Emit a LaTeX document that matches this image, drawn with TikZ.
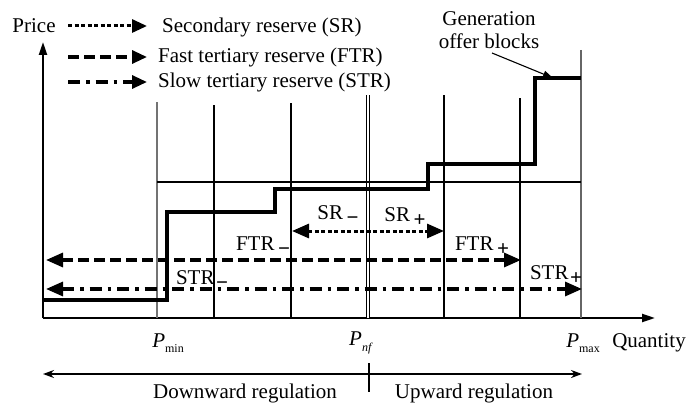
\documentclass[tikz,border=0pt]{standalone}
\usepackage{fontspec}
\setmainfont{Liberation Serif}
\usetikzlibrary{arrows.meta}
\newcommand{\lowsign}[1]{\,\raisebox{-0.5ex}{#1}}
\newcommand{\Psub}[1]{\textit{P}\raisebox{-0.55ex}{\fontsize{12}{12}\selectfont #1}}

\tikzset{
	every node/.style={font=\fontsize{21}{24}\selectfont, inner sep=0pt},
	axis/.style={line width=2.2pt, -{Triangle[length=13pt,width=8pt]}},
	grid/.style={line width=1.1pt},
	offer/.style={line width=3.2pt, line join=miter},
	srline/.style={line width=3pt, dash pattern=on 4pt off 2.5pt},
	ftrline/.style={line width=3.2pt, dash pattern=on 11pt off 5pt},
	strline/.style={line width=3.2pt, dash pattern=on 12pt off 6pt on 3.5pt off 6pt},
	onetip/.style={-{Triangle[length=15pt,width=13pt]}},
	twotip/.style={{Triangle[length=17pt,width=14pt]}-{Triangle[length=17pt,width=14pt]}},
}

\begin{document}
\begin{tikzpicture}[x=1pt,y=-1pt]
			%%%%% START %%%%%
			\useasboundingbox (0,0) rectangle (688,404);
			
			% axes
			\coordinate (O) at (43,318);
			\coordinate (ytop) at (43,42);
			\coordinate (xend) at (655,318);
			\draw[axis] (O) -- (ytop);
			\draw[axis] (O) -- (xend);
			\node (price) at (34,26) {Price};
			\node (quantity) at (649,343) {Quantity};
			
			% vertical block borders
			\draw[line width=2pt, color=black!55] (157,102) -- (157,318);
			\draw[grid] (214,105) -- (214,318);
			\draw[line width=2.8pt] (291,103) -- (291,318);
			\draw[double, double distance=1.6pt, line width=0.9pt] (368,95) -- (368,318);
			\draw[grid] (444,95) -- (444,318);
			\draw[grid] (520,98) -- (520,318);
			\draw[line width=2.2pt, color=black!60] (581,50) -- (581,318);
			\draw[grid] (157,182) -- (581,182);
			
			% offer curve
			\draw[offer] (43,300) -- (167,300) -- (167,212) -- (275,212) -- (275,189) -- (428,189) -- (428,164) -- (535,164) -- (535,78) -- (581,78);
			\node[align=center] (blocks) at (489,30) {Generation\\[-1pt]offer blocks};
			\coordinate (blocktip) at (553,78);
			\draw[line width=1.1pt, -{Triangle[length=10pt,width=7pt]}] (492,53) -- (blocktip);
			
			% legend
			\draw[srline, onetip] (68,26) -- (147,26);
			\draw[ftrline, onetip] (68,57) -- (147,57);
			\draw[strline, onetip] (68,82) -- (147,82);
			\node[anchor=west] (legsr) at (162,27) {Secondary reserve (SR)};
			\node[anchor=west] (legftr) at (158,57) {Fast tertiary reserve (FTR)};
			\node[anchor=west] (legstr) at (158,82) {Slow tertiary reserve (STR)};
			
			% reserves
			\coordinate (srm) at (292,231);
			\coordinate (srp) at (444,231);
			\coordinate (ftrm) at (46,260);
			\coordinate (ftrp) at (521,260);
			\coordinate (strm) at (46,289);
			\coordinate (strp) at (582,289);
			\draw[srline, twotip] (srm) -- (srp);
			\draw[ftrline, twotip] (ftrm) -- (ftrp);
			\draw[strline, twotip] (strm) -- (strp);
			
			\node (srminus) at (338,215) {SR\lowsign{\textbf{−}}};
			\node (srplus) at (405,217) {SR\lowsign{\textbf{+}}};
			\node (ftrminus) at (263,246) {FTR\lowsign{\textbf{−}}};
			\node (ftrplus) at (482,246) {FTR\lowsign{\textbf{+}}};
			\node (strminus) at (202,280) {STR\hspace{-2pt}\lowsign{\textbf{−}}};
			\node (strplus) at (556,275) {STR\hspace{-2pt}\lowsign{\textbf{+}}};
			
			% quantities
			\node (pmin) at (168,343) {\Psub{min}};
			\node (pnf) at (361,343) {\Psub{\textit{nf}}};
			\node (pmax) at (583,343) {\Psub{max}};
			
			% regulation
			\coordinate (regleft) at (43,374);
			\coordinate (regright) at (582,374);
			\draw[line width=2pt, {Stealth[length=11pt,width=8pt]}-{Stealth[length=11pt,width=8pt]}] (regleft) -- (regright);
			\draw[line width=2.8pt] (369,363) -- (369,392);
			\node (down) at (245,393) {Downward regulation};
			\node (up) at (474,393) {Upward regulation};
			
			%%%%% END %%%%%
		\end{tikzpicture}
\end{document}
